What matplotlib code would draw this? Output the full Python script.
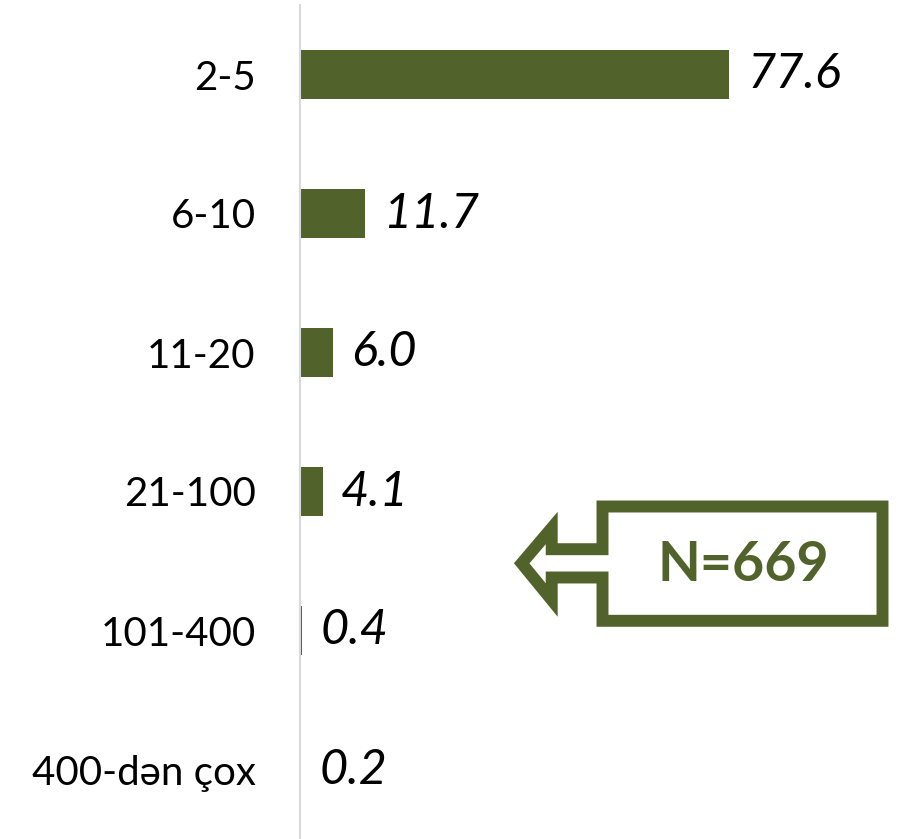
import matplotlib.pyplot as plt
from matplotlib.patches import Polygon

categories = ["2-5", "6-10", "11-20", "21-100", "101-400", "400-dən çox"]
values = [77.6, 11.7, 6.0, 4.1, 0.4, 0.2]
labels = ["77.6", "11.7", "6.0", "4.1", "0.4", "0.2"]
note = "N=669"

green = "#51632a"
fonts = ["Lato", "Open Sans", "DejaVu Sans"]
plt.rcParams["font.family"] = fonts

fig = plt.figure(figsize=(8.99, 8.39), dpi=100)
ax = fig.add_axes([300 / 899, 0, 599 / 899, 1 - 5 / 839])

y = range(len(categories))
ax.barh(y, values, height=0.35, color=green)
ax.set_ylim(len(categories) - 0.5, -0.5)
ax.set_xlim(0, 599 / 5.53)

for i, (v, t) in enumerate(zip(values, labels)):
    ax.annotate(t, (v, i), xytext=(13, 0), textcoords="offset points",
                va="center", ha="left", fontsize=35, style="italic", color="black")

ax.set_yticks(list(y))
ax.set_yticklabels(categories, fontsize=29)
ax.tick_params(axis="y", length=0, pad=32)
ax.set_xticks([])
for s in ["top", "right", "bottom"]:
    ax.spines[s].set_visible(False)
ax.spines["left"].set_color("#d9d9d9")
ax.spines["left"].set_linewidth(1.5)

# callout arrow box, drawn in pixel space
ov = fig.add_axes([0, 0, 1, 1], facecolor="none")
ov.set_xlim(0, 899)
ov.set_ylim(839, 0)
ov.axis("off")
pts = [(602.5, 506.5), (882.5, 506.5), (882.5, 620.8), (602.5, 620.8),
       (602.5, 577.5), (551.7, 577.5), (551.7, 600), (521.7, 563.3),
       (551.7, 528), (551.7, 549.2), (602.5, 549.2)]
ov.add_patch(Polygon(pts, closed=True, fill=False, edgecolor=green,
                     linewidth=8.6, joinstyle="miter"))
ov.text(743, 565, note, ha="center", va="center", fontsize=40,
        fontweight="bold", color=green)

fig.savefig("out.png", dpi=100)
